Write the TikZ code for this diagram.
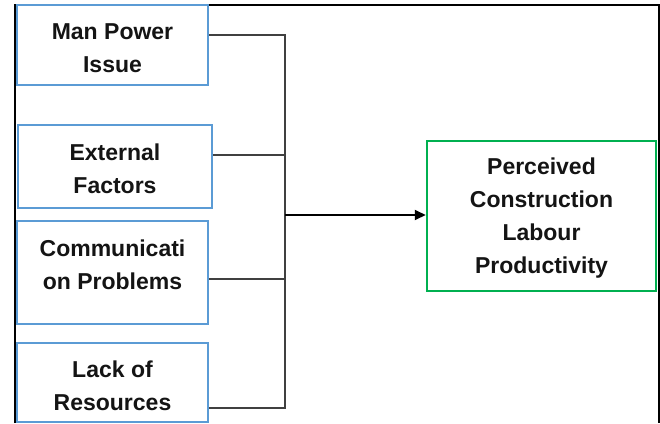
\documentclass[tikz,border=0pt]{standalone}
\usepackage{fontspec}
\setmainfont{Liberation Sans}
\usetikzlibrary{arrows.meta}
\definecolor{boxblue}{HTML}{5B9BD5}
\definecolor{boxgreen}{HTML}{00B050}
\definecolor{conn}{HTML}{404040}
\definecolor{txtc}{HTML}{141414}
\tikzset{
  inbox/.style={draw=boxblue, line width=2.5pt, fill=white, rectangle, inner sep=0pt},
  outbox/.style={draw=boxgreen, line width=2.5pt, fill=white, rectangle, inner sep=0pt},
  lbl/.style={text=txtc, align=center, inner sep=0pt, font=\fontsize{23}{33}\selectfont\bfseries},
  connector/.style={draw=conn, line width=1.8pt},
  arrowline/.style={draw=black, line width=1.8pt, -{Triangle[length=11pt,width=10pt]}},
  frameline/.style={draw=black, line width=1.2pt}
}
\begin{document}
\begin{tikzpicture}[x=1pt,y=-1pt]
\useasboundingbox (0,0) rectangle (660,423);
% frame
\coordinate (fa) at (15,423);
\coordinate (fb) at (15,5);
\coordinate (fc) at (659,5);
\coordinate (fd) at (659,423);
\draw[frameline] (fa) -- (fb) -- (fc) -- (fd);
% boxes
\node[inbox, minimum width=191pt, minimum height=80pt] (b1) at (112.5,45) {};
\node[inbox, minimum width=194pt, minimum height=83pt] (b2) at (115,166.5) {};
\node[inbox, minimum width=191pt, minimum height=103pt] (b3) at (112.5,272.5) {};
\node[inbox, minimum width=191pt, minimum height=79pt] (b4) at (112.5,382.5) {};
\node[outbox, minimum width=229pt, minimum height=150pt] (out) at (541.5,216) {};
% labels
\node[lbl] (t1) at (112.5,48) {Man Power\\Issue};
\node[lbl] (t2) at (115,169) {External\\Factors};
\node[lbl] (t3) at (112.5,265) {Communicati\\on Problems};
\node[lbl] (t4) at (112.5,385.5) {Lack of\\Resources};
\node[lbl] (t5) at (541.5,218.5) {Perceived\\Construction\\Labour\\Productivity};
% connectors
\coordinate (v1) at (285,35);
\coordinate (v2) at (285,155);
\coordinate (v3) at (285,279);
\coordinate (v4) at (285,408);
\coordinate (vm) at (285,215);
\draw[connector] (b1.east |- v1) -- (v1) -- (v4) -- (b4.east |- v4);
\draw[connector] (b2.east |- v2) -- (v2);
\draw[connector] (b3.east |- v3) -- (v3);
\draw[arrowline] (vm) -- (out.west |- vm);
\end{tikzpicture}
\end{document}
